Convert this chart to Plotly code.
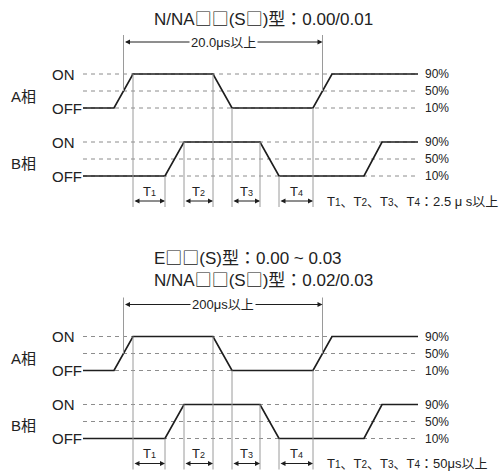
import plotly.graph_objects as go

# signal transition times (picture time units) and levels (%)
A_TIME = [83, 114, 133, 213, 232, 313, 332, 418]
A_LEVEL = [10, 10, 90, 90, 10, 10, 90, 90]
B_TIME = [83, 165, 184, 260, 279, 364, 382, 418]
B_LEVEL = [10, 10, 90, 90, 10, 10, 90, 90]

REF_LEVELS = [90, 50, 10]
REF_LABELS = ["90%", "50%", "10%"]
STATE_LABELS = ["ON", "OFF"]
PHASE_LABELS = ["A相", "B相"]


def sub(n, size=9):
    return f"T<span style='font-size:{size}px'>{n}</span>"


T_LABELS = [sub(1), sub(2), sub(3), sub(4)]

BOX = "<span style='font-family:Noto Sans CJK JP'>□</span>"
TITLES = [
    [f"N/NA{BOX}{BOX}(S{BOX})型：0.00/0.01"],
    [f"E{BOX}{BOX}(S)型：0.00 ~ 0.03", f"N/NA{BOX}{BOX}(S{BOX})型：0.02/0.03"],
]
PERIOD_LABELS = ["20.0μs以上", "200μs以上"]
NOTE_T = "、".join(sub(n, 10) for n in (1, 2, 3, 4))
NOTE_LABELS = [NOTE_T + "：2.5 μ s以上", NOTE_T + "：50μs以上"]

FONT = "Liberation Sans, Noto Sans CJK JP, sans-serif"
SIG = "#1e1e1e"
GUIDE = "#9a9a9a"
DASH = "#808080"
TXT = "#222"

# layout of each diagram (pixel space, y down)
OFFSETS = [0, 262.5]
PX_PER_PCT = 34 / 80


def lvl_y(off_y, pct):
    return off_y - (pct - 10) * PX_PER_PCT


def level_at(times, levels, t):
    for i in range(len(times) - 1):
        if times[i] <= t <= times[i + 1]:
            t0, t1 = times[i], times[i + 1]
            if t1 == t0:
                return levels[i]
            return levels[i] + (levels[i + 1] - levels[i]) * (t - t0) / (t1 - t0)
    return levels[-1]


fig = go.Figure()
shapes = []
ann = []

intervals = [
    (A_TIME[2], B_TIME[1]),
    (B_TIME[2], A_TIME[3]),
    (A_TIME[4], B_TIME[3]),
    (B_TIME[4], A_TIME[5]),
]
period = ((A_TIME[1] + A_TIME[2]) / 2, (A_TIME[5] + A_TIME[6]) / 2)

for d, dy in enumerate(OFFSETS):
    a_off = 108 + dy
    b_off = 176 + dy
    dim_y = 42 + dy
    line_top = 35 + dy
    t_lab_y = 191 + dy
    t_arr_y = 201 + dy
    line_bot = 207 + dy

    # dashed reference levels
    for off in (a_off, b_off):
        for p in REF_LEVELS:
            shapes.append(dict(type="line", x0=A_TIME[0], x1=415, y0=lvl_y(off, p), y1=lvl_y(off, p),
                               line=dict(color=DASH, width=0.9, dash="4px,4px"), layer="below"))
        for p, lab in zip(REF_LEVELS, REF_LABELS):
            ann.append(dict(x=423, y=lvl_y(off, p), text=lab, showarrow=False, xanchor="left",
                            yanchor="middle", font=dict(size=12, color=TXT)))
        ann.append(dict(x=50, y=lvl_y(off, 90), text=STATE_LABELS[0], showarrow=False, xanchor="left",
                        yanchor="middle", font=dict(size=15, color=TXT)))
        ann.append(dict(x=50, y=lvl_y(off, 10), text=STATE_LABELS[1], showarrow=False, xanchor="left",
                        yanchor="middle", font=dict(size=15, color=TXT)))
    ann.append(dict(x=9, y=lvl_y(a_off, 50) + 5, text=PHASE_LABELS[0], showarrow=False, xanchor="left",
                    yanchor="middle", font=dict(size=15, color=TXT)))
    ann.append(dict(x=9, y=lvl_y(b_off, 50) + 4, text=PHASE_LABELS[1], showarrow=False, xanchor="left",
                    yanchor="middle", font=dict(size=15, color=TXT)))

    # period guide lines
    for t in period:
        shapes.append(dict(type="line", x0=t, x1=t, y0=line_top, y1=lvl_y(a_off, 50),
                           line=dict(color=GUIDE, width=1)))
    # interval guide lines
    for i, (t0, t1) in enumerate(intervals):
        for t in (t0, t1):
            if t in A_TIME:
                y0 = lvl_y(a_off, level_at(A_TIME, A_LEVEL, t))
            else:
                y0 = lvl_y(b_off, level_at(B_TIME, B_LEVEL, t))
            shapes.append(dict(type="line", x0=t, x1=t, y0=y0, y1=line_bot,
                               line=dict(color=GUIDE, width=1)))
        ann.append(dict(x=t1, y=t_arr_y, ax=t0, ay=t_arr_y, axref="x", ayref="y", xref="x", yref="y",
                        text="", showarrow=True, arrowhead=2, startarrowhead=2, arrowside="end+start",
                        arrowsize=1, arrowwidth=1, arrowcolor=SIG, standoff=0, startstandoff=0))
        ann.append(dict(x=(t0 + t1) / 2, y=t_lab_y, text=T_LABELS[i], showarrow=False,
                        xanchor="center", yanchor="middle", font=dict(size=13, color=TXT)))

    # period dimension
    ann.append(dict(x=period[1], y=dim_y, ax=period[0], ay=dim_y, axref="x", ayref="y", xref="x", yref="y",
                    text="", showarrow=True, arrowhead=2, startarrowhead=2, arrowside="end+start",
                    arrowsize=1, arrowwidth=1, arrowcolor=SIG, standoff=0, startstandoff=0))
    ann.append(dict(x=(period[0] + period[1]) / 2, y=dim_y, text=PERIOD_LABELS[d], showarrow=False,
                    xanchor="center", yanchor="middle", bgcolor="white", borderpad=1,
                    font=dict(size=13, color=TXT)))

    # note
    ann.append(dict(x=325, y=t_arr_y, text=NOTE_LABELS[d], showarrow=False, xanchor="left",
                    yanchor="middle", font=dict(size=13, color=TXT)))

    # signals
    fig.add_trace(go.Scatter(x=A_TIME, y=[lvl_y(a_off, v) for v in A_LEVEL], mode="lines",
                             line=dict(color=SIG, width=1.7), hoverinfo="skip"))
    fig.add_trace(go.Scatter(x=B_TIME, y=[lvl_y(b_off, v) for v in B_LEVEL], mode="lines",
                             line=dict(color=SIG, width=1.7), hoverinfo="skip"))

# titles (multi-line titles drawn as one block)
title_y = [17, 267.5]
for d, lines in enumerate(TITLES):
    ann.append(dict(x=152, y=title_y[d], text="<br>".join(lines), showarrow=False, xanchor="left",
                    yanchor="middle", align="left", font=dict(size=17, color=TXT)))

fig.update_layout(
    width=501, height=474,
    margin=dict(l=0, r=0, t=0, b=0),
    paper_bgcolor="white", plot_bgcolor="white",
    showlegend=False,
    font=dict(family=FONT),
    shapes=shapes, annotations=ann,
    xaxis=dict(range=[0, 501], visible=False, fixedrange=True),
    yaxis=dict(range=[474, 0], visible=False, fixedrange=True),
)

fig.write_html("out.html", config={"displayModeBar": False},
               post_script="document.body.style.margin='0px';document.body.style.overflow='hidden';")
